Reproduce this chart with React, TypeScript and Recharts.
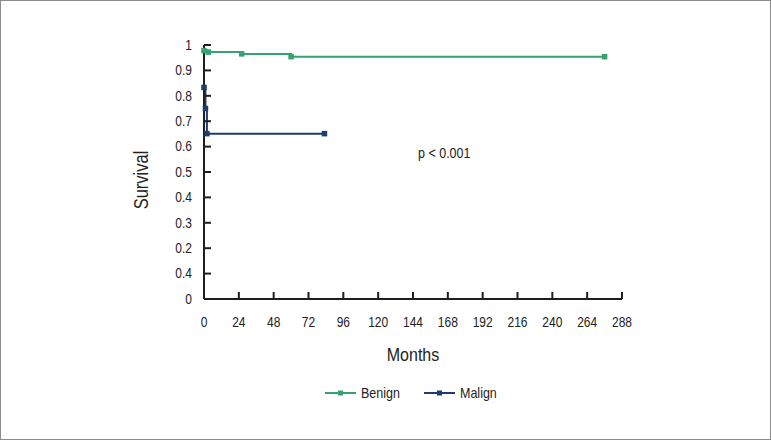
import React from 'react';
import { LineChart, Line, XAxis, YAxis, Label } from 'recharts';

const benignMonths = [0, 3, 26, 60, 276];
const benignSurvival = [0.978, 0.972, 0.965, 0.954, 0.954];
const malignMonths = [0, 1, 2, 83];
const malignSurvival = [0.833, 0.75, 0.651, 0.651];

const xTicks = [0, 24, 48, 72, 96, 120, 144, 168, 192, 216, 240, 264, 288];
const yTicks = [0, 0.1, 0.2, 0.3, 0.4, 0.5, 0.6, 0.7, 0.8, 0.9, 1];
const yTickLabels = ['0', '0.4', '0.2', '0.3', '0.4', '0.5', '0.6', '0.7', '0.8', '0.9', '1'];

const seriesNames = ['Benign', 'Malign'];
const seriesColors = ['#38a172', '#1f3d6b'];
const xTitle = 'Months';
const yTitle = 'Survival';
const pValueText = 'p < 0.001';

const benignData = benignMonths.map((m, i) => ({ month: m, survival: benignSurvival[i] }));
const malignData = malignMonths.map((m, i) => ({ month: m, survival: malignSurvival[i] }));

const FONT = '"Liberation Sans", Arial, sans-serif';
const AXIS = '#1e1e1e';
const TXT = '#222';
const STRETCH = 1.18;

const SquareDot = (props: any) => {
  const { cx, cy, stroke, index } = props;
  if (cx == null || cy == null) return null;
  return <rect key={index} x={cx - 2.75} y={cy - 2.75} width={5.5} height={5.5} fill={stroke} />;
};

const yTickFormatter = (v: number) => {
  const i = yTicks.findIndex((t) => Math.abs(t - v) < 1e-6);
  return i >= 0 ? yTickLabels[i] : String(v);
};

const XTick = (props: any) => {
  const { x, y, payload } = props;
  return (
    <text transform={`translate(${x} ${y}) scale(1 ${STRETCH})`} textAnchor="middle" dominantBaseline="hanging" fill={TXT} fontSize={12} fontFamily={FONT}>
      {String(payload.value)}
    </text>
  );
};

const YTick = (props: any) => {
  const { x, y, payload } = props;
  return (
    <text transform={`translate(${x} ${y}) scale(1 ${STRETCH})`} textAnchor="end" dominantBaseline="central" fill={TXT} fontSize={12} fontFamily={FONT}>
      {yTickFormatter(payload.value)}
    </text>
  );
};

export default function App() {
  return (
    <div style={{ position: 'absolute', left: 0, top: 0, width: 771, height: 440, background: '#fff', fontFamily: FONT }}>
      <LineChart
        width={771}
        height={440}
        margin={{ top: 45, right: 149, bottom: 111, left: 164 }}
      >
        <XAxis
          dataKey="month"
          type="number"
          domain={[0, 288]}
          ticks={xTicks}
          allowDuplicatedCategory={false}
          interval={0}
          height={30}
          tickSize={-7}
          tickMargin={25}
          stroke={AXIS}
          strokeWidth={2}
          tick={<XTick />}
        >
          <Label
            content={(p: any) => {
              const vb = p.viewBox || { x: 204, y: 299, width: 418, height: 30 };
              const cx = vb.x + vb.width / 2;
              const cy = 355;
              return (
                <text transform={`translate(${cx} ${cy}) scale(1 ${STRETCH})`} textAnchor="middle" dominantBaseline="central" fill={TXT} fontSize={16} fontFamily={FONT}>
                  {xTitle}
                </text>
              );
            }}
          />
        </XAxis>
        <YAxis
          dataKey="survival"
          type="number"
          domain={[0, 1]}
          ticks={yTicks}
          interval={0}
          width={40}
          tickSize={-7}
          tickMargin={19}
          stroke={AXIS}
          strokeWidth={2}
          tick={<YTick />}
        >
          <Label
            content={(p: any) => {
              const vb = p.viewBox || { x: 164, y: 45, width: 40, height: 254 };
              const cx = vb.x - 22;
              const cy = vb.y + vb.height / 2 + 8;
              return (
                <text transform={`translate(${cx} ${cy}) rotate(-90) scale(1 ${STRETCH})`} textAnchor="middle" dominantBaseline="central" fill={TXT} fontSize={16.5} fontFamily={FONT}>
                  {yTitle}
                </text>
              );
            }}
          />
        </YAxis>
        <Line
          data={benignData}
          dataKey="survival"
          name={seriesNames[0]}
          type="stepAfter"
          stroke={seriesColors[0]}
          strokeWidth={2}
          dot={<SquareDot />}
          activeDot={false}
          isAnimationActive={false}
        />
        <Line
          data={malignData}
          dataKey="survival"
          name={seriesNames[1]}
          type="stepAfter"
          stroke={seriesColors[1]}
          strokeWidth={2}
          dot={<SquareDot />}
          activeDot={false}
          isAnimationActive={false}
        />
      </LineChart>
      <div style={{ position: 'absolute', left: 418, top: 145, fontSize: 12.5, color: TXT, whiteSpace: 'nowrap', lineHeight: '16px', transform: `scaleY(${STRETCH})` }}>
        {pValueText}
      </div>
      {seriesNames.map((name, i) => (
        <div key={name} style={{ position: 'absolute', left: 325 + i * 99, top: 384, height: 18, display: 'flex', alignItems: 'center', whiteSpace: 'nowrap' }}>
          <svg width={31} height={18} style={{ display: 'block' }}>
            <line x1={0} y1={9} x2={31} y2={9} stroke={seriesColors[i]} strokeWidth={2} />
            <rect x={13} y={6.5} width={5} height={5} fill={seriesColors[i]} />
          </svg>
          <span style={{ marginLeft: 5, fontSize: 12.5, color: TXT, display: 'inline-block', transform: `scaleY(${STRETCH})` }}>{name}</span>
        </div>
      ))}
      <div style={{ position: 'absolute', left: 0, top: 0, width: 771, height: 440, boxSizing: 'border-box', border: '1px solid #8c8c8c', pointerEvents: 'none' }} />
    </div>
  );
}
